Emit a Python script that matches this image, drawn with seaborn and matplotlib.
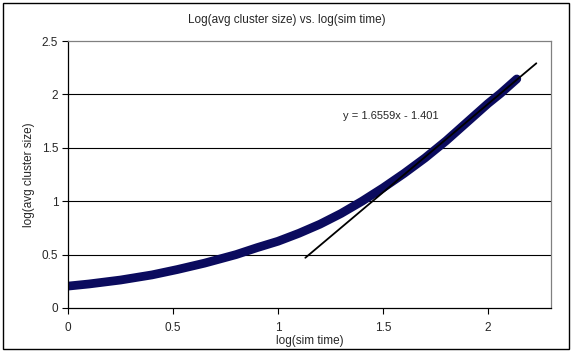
import numpy as np
import pandas as pd
import seaborn as sns
import matplotlib.pyplot as plt
from matplotlib.patches import Rectangle

# 讀圖估計的資料點 (log sim time, log avg cluster size)
log_time = [0.0, 0.1, 0.25, 0.4, 0.52, 0.65, 0.8, 0.9, 1.0, 1.1, 1.2,
            1.3, 1.4, 1.5, 1.6, 1.7, 1.8, 1.9, 2.0, 2.06, 2.137]
log_size = [0.205, 0.225, 0.262, 0.31, 0.36, 0.42, 0.50, 0.565, 0.625, 0.70, 0.785,
            0.885, 1.0, 1.125, 1.26, 1.405, 1.565, 1.74, 1.915, 2.01, 2.145]

# 趨勢線
slope = 1.6559
intercept = -1.401
trend_x = [1.13, 2.23]

x_ticks = [0, 0.5, 1, 1.5, 2]
y_ticks = [0, 0.5, 1, 1.5, 2, 2.5]

df = pd.DataFrame({'x': log_time, 'y': log_size})
trend = pd.DataFrame({'x': trend_x, 'y': [slope * v + intercept for v in trend_x]})

sns.set_theme(style="white")
plt.rcParams['font.family'] = ['Liberation Sans', 'DejaVu Sans']

fig = plt.figure(figsize=(5.74, 3.55), dpi=100)
ax = fig.add_axes([0.1185, 0.1324, 0.8415, 0.752])

for yv in y_ticks[1:-1]:
    ax.axhline(yv, color='black', lw=0.8, zorder=0)

sns.lineplot(data=df, x='x', y='y', ax=ax, color='#0b0b5e', lw=6.3,
             solid_capstyle='round', solid_joinstyle='round', zorder=2)
sns.lineplot(data=trend, x='x', y='y', ax=ax, color='black', lw=1.3, zorder=3)

ax.text(1.31, 1.80, 'y = 1.6559x - 1.401', fontsize=8, ha='left', va='center')

ax.set_xlim(0, 2.3)
ax.set_ylim(0, 2.5)
ax.set_xticks(x_ticks)
ax.set_xticklabels(['0', '0.5', '1', '1.5', '2'])
ax.set_yticks(y_ticks)
ax.set_yticklabels(['0', '0.5', '1', '1.5', '2', '2.5'])
ax.tick_params(axis='both', direction='out', length=4, width=0.8, color='black',
               labelsize=8.5, left=True, bottom=True, pad=3)
ax.tick_params(axis='x', pad=6)

ax.set_xlabel('log(sim time)', fontsize=8.5, labelpad=0.5)
ax.set_ylabel('log(avg cluster size)', fontsize=8.5, labelpad=5)
fig.text(0.5, 0.943, 'Log(avg cluster size) vs. log(sim time)', fontsize=8.5,
         ha='center', va='center')

for side in ['left', 'bottom']:
    ax.spines[side].set_color('black')
    ax.spines[side].set_linewidth(0.9)
for side in ['top', 'right']:
    ax.spines[side].set_color('#808080')
    ax.spines[side].set_linewidth(0.9)

# 外框
fig.patches.append(Rectangle((0.005, 0.018), 0.987, 0.973, transform=fig.transFigure,
                             fill=False, edgecolor='black', lw=1))

fig.savefig('out.png', dpi=100)
